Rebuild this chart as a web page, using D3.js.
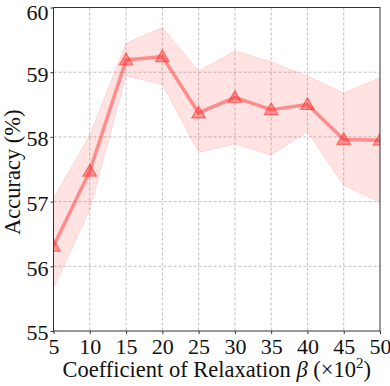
<!DOCTYPE html>
<html>
<head>
<meta charset="utf-8">
<script src="https://cdn.jsdelivr.net/npm/d3@7"></script>
<style>
  body { margin: 0; background: #fff; }
  svg { display: block; font-family: "Liberation Serif", "DejaVu Serif", serif; }
</style>
</head>
<body>
<svg id="chart" width="390" height="386"></svg>
<script>
const betas = [5, 10, 15, 20, 25, 30, 35, 40, 45, 50];
const accMean = [56.31, 57.47, 59.19, 59.24, 58.37, 58.61, 58.42, 58.50, 57.96, 57.95];
const accUpper = [57.05, 58.03, 59.45, 59.69, 59.02, 59.33, 59.16, 58.94, 58.68, 58.92];
const accLower = [55.66, 56.87, 58.94, 58.81, 57.76, 57.89, 57.72, 58.08, 57.25, 56.99];
const xTicks = [5, 10, 15, 20, 25, 30, 35, 40, 45, 50];
const yTicks = [55, 56, 57, 58, 59, 60];

const svg = d3.select('#chart');
const margin = { top: 7.5, right: 10, bottom: 55, left: 53.5 };
const width = 390 - margin.left - margin.right;
const height = 386 - margin.top - margin.bottom;

const g = svg.append('g').attr('transform', `translate(${margin.left},${margin.top})`);

const x = d3.scaleLinear().domain([5, 50]).range([0, width]);
const y = d3.scaleLinear().domain([55, 60]).range([height, 0]);

// grid
g.append('g').selectAll('line')
  .data(xTicks.slice(1, -1))
  .enter().append('line')
  .attr('x1', d => x(d)).attr('x2', d => x(d))
  .attr('y1', 0).attr('y2', height)
  .attr('stroke', '#b0b0b0').attr('stroke-width', 0.8).attr('stroke-dasharray', '3,2');
g.append('g').selectAll('line')
  .data(yTicks.slice(1, -1))
  .enter().append('line')
  .attr('x1', 0).attr('x2', width)
  .attr('y1', d => y(d)).attr('y2', d => y(d))
  .attr('stroke', '#b0b0b0').attr('stroke-width', 0.8).attr('stroke-dasharray', '3,2');

svg.append('clipPath').attr('id', 'clip')
  .append('rect').attr('width', width).attr('height', height);

const plot = g.append('g').attr('clip-path', 'url(#clip)');

const band = d3.area()
  .x((d, i) => x(betas[i]))
  .y0((d, i) => y(accLower[i]))
  .y1((d, i) => y(accUpper[i]));

plot.append('path')
  .datum(betas)
  .attr('d', band)
  .attr('fill', 'rgba(255,60,60,0.15)')
  .attr('stroke', 'rgba(255,60,60,0.12)')
  .attr('stroke-width', 1);

const line = d3.line()
  .x((d, i) => x(betas[i]))
  .y(d => y(d));

plot.append('path')
  .datum(accMean)
  .attr('d', line)
  .attr('fill', 'none')
  .attr('stroke', 'rgba(255,70,70,0.55)')
  .attr('stroke-width', 3.5);

const tri = d3.symbol().type(d3.symbolTriangle).size(80);
plot.selectAll('.mk')
  .data(accMean)
  .enter().append('path')
  .attr('class', 'mk')
  .attr('d', tri)
  .attr('transform', (d, i) => `translate(${x(betas[i])},${y(d) + 1})`)
  .attr('fill', 'rgba(255,40,40,0.4)')
  .attr('stroke', 'rgba(255,40,40,0.55)')
  .attr('stroke-width', 1.2);

// frame
g.append('rect')
  .attr('width', width).attr('height', height)
  .attr('fill', 'none').attr('stroke', '#333').attr('stroke-width', 1);

// axes
const xAxis = g.append('g')
  .attr('transform', `translate(0,${height})`)
  .call(d3.axisBottom(x).tickValues(xTicks).tickSize(3).tickPadding(4).tickFormat(d3.format('d')));
const yAxis = g.append('g')
  .call(d3.axisLeft(y).tickValues(yTicks).tickSize(3).tickPadding(2).tickFormat(d3.format('d')));

[xAxis, yAxis].forEach(a => {
  a.select('.domain').remove();
  a.selectAll('line').attr('stroke', '#333');
  a.selectAll('text').attr('font-size', 22).attr('fill', '#111')
    .attr('font-family', '"Liberation Serif", serif');
});
// top label sits a bit lower so it is not cut at the edge
yAxis.selectAll('text').attr('dy', d => d === 60 ? '0.56em' : '0.4em');

// labels
const xl = svg.append('text')
  .attr('x', margin.left + width / 2)
  .attr('y', 377)
  .attr('text-anchor', 'middle')
  .attr('font-size', 22.5)
  .attr('fill', '#111');
xl.append('tspan').text('Coefficient of Relaxation ');
xl.append('tspan').attr('font-style', 'italic').text('β');
xl.append('tspan').text(' (×10');
xl.append('tspan').attr('font-size', 15).attr('dy', -9).text('2');
xl.append('tspan').attr('dy', 9).text(')');

svg.append('text')
  .attr('transform', `translate(20,${margin.top + height / 2 + 3}) rotate(-90)`)
  .attr('text-anchor', 'middle')
  .attr('font-size', 22.5)
  .attr('fill', '#111')
  .text('Accuracy (%)');
</script>
</body>
</html>
